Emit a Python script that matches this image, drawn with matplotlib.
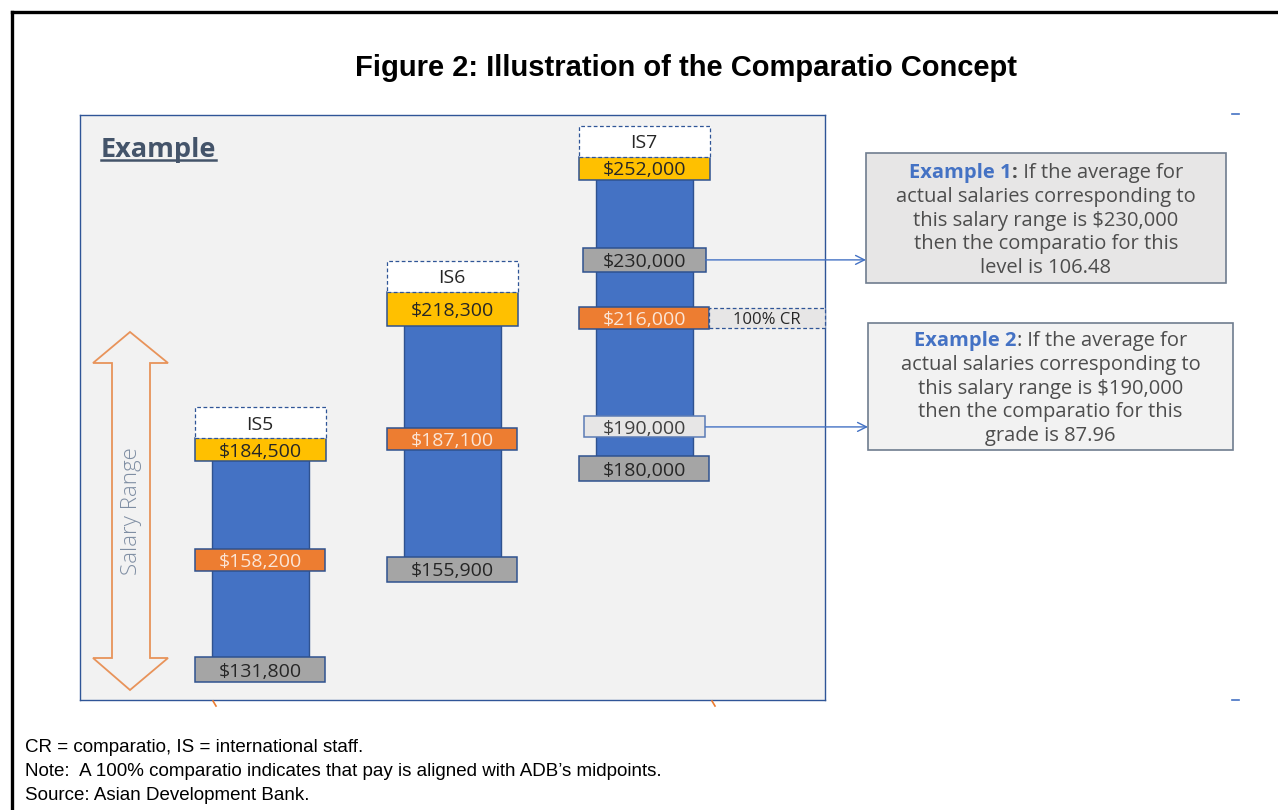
import matplotlib
matplotlib.use("Agg")
import matplotlib.pyplot as plt
from matplotlib.patches import Rectangle, Polygon
import numpy as np

# salary ranges per grade
grades = ["IS5", "IS6", "IS7"]
range_min = [131800, 155900, 180000]
range_mid = [158200, 187100, 216000]
range_max = [184500, 218300, 252000]

# example average salaries (both shown on IS7)
example_salaries = [230000, 190000]
example_words = ["level", "grade"]

title = "Figure 2: Illustration of the Comparatio Concept"
notes = ["CR = comparatio, IS = international staff.",
         "Note:  A 100% comparatio indicates that pay is aligned with ADB\u2019s midpoints.",
         "Source: Asian Development Bank."]

BLUE = "#4472c4"
EDGE = "#2f528f"
BOXFONT = "Open Sans"

W, H = 1278, 810
fig = plt.figure(figsize=(W / 100, H / 100), dpi=100)

# canvas in pixel units, on top of the chart panel
cv = fig.add_axes([0, 0, 1, 1], zorder=2)
cv.set_xlim(0, W)
cv.set_ylim(H, 0)
cv.axis("off")

# chart panel
pl, pt, pr, pb = 80, 115, 825, 700
ax = fig.add_axes([pl / W, 1 - pb / H, (pr - pl) / W, (pb - pt) / H], zorder=1)
ax.set_facecolor("#f2f2f2")
for s in ax.spines.values():
    s.set_color("#2f5597")
    s.set_linewidth(1.0)
ax.set_xticks([])
ax.set_yticks([])
ax.set_xlim(-180 / 192, 565 / 192)
ax.set_ylim(124600, 264700)

x0, x1 = ax.get_xlim()
y0, y1 = ax.get_ylim()


def pw(p):
    return p * (x1 - x0) / (pr - pl)


def ph(p):
    return p * (y1 - y0) / (pb - pt)


def value_box(x, v, wpx, hpx, face, label, tcolor, edge=EDGE, ls="-", size=14):
    w, h = pw(wpx), ph(hpx)
    ax.add_patch(Rectangle((x - w / 2, v - h / 2), w, h, facecolor=face, edgecolor=edge,
                           lw=1.1, ls=ls, zorder=3, clip_on=False))
    ax.text(x, v, label, ha="center", va="center_baseline", color=tcolor, fontsize=size,
            family=BOXFONT, zorder=4, clip_on=False)


xs = np.arange(len(grades))
lo = np.array(range_min)
hi = np.array(range_max)
ax.bar(xs, hi - lo, bottom=lo, width=pw(97), color=BLUE, edgecolor=EDGE, lw=1.0, zorder=2)

top_h = [23, 34, 23]
for i, g in enumerate(grades):
    value_box(xs[i], range_max[i], 131, top_h[i], "#ffc000", f"${range_max[i]:,}", "#262626")
    value_box(xs[i], range_mid[i], 130, 22, "#ed7d31", f"${range_mid[i]:,}", "#fbe5d6")
    value_box(xs[i], range_min[i], 130, 25, "#a5a5a5", f"${range_min[i]:,}", "#262626")
    # grade label box above the top of range
    bot = range_max[i] + ph(top_h[i]) / 2
    ax.add_patch(Rectangle((xs[i] - pw(131) / 2, bot), pw(131), ph(31), facecolor="white",
                           edgecolor="#2f5597", lw=0.9, ls=(0, (3, 2)), zorder=3, clip_on=False))
    ax.text(xs[i], bot + ph(31) / 2, g, ha="center", va="center_baseline", fontsize=14,
            family=BOXFONT, color="#262626", zorder=4, clip_on=False)

# 100% CR tag next to IS7 midpoint
k = len(grades) - 1
cr_left = xs[k] + pw(130) / 2
ax.add_patch(Rectangle((cr_left, range_mid[k] - ph(10)), pw(116), ph(20), facecolor="#e7e6e6",
                       edgecolor="#2f5597", lw=0.9, ls=(0, (3, 2)), zorder=3, clip_on=False))
ax.text(cr_left + pw(58), range_mid[k], "100% CR", ha="center", va="center_baseline",
        fontsize=12, family=BOXFONT, color="#262626", zorder=4, clip_on=False)

# example salaries on IS7
value_box(xs[k], example_salaries[0], 123, 24, "#a5a5a5", f"${example_salaries[0]:,}", "#262626")
value_box(xs[k], example_salaries[1], 121, 21, "#e7e6e6", f"${example_salaries[1]:,}", "#404040",
          edge="#5b7bb5")

# outer frame, title
cv.plot([12, 12], [12, H], color="black", lw=2.4)
cv.plot([12, W], [12, 12], color="black", lw=2.4)
cv.text(686, 68, title, ha="center", va="center", fontsize=21, fontweight="bold",
        family="Liberation Sans")

# "Example" heading
ex = cv.text(101, 157, "Example", ha="left", va="baseline", fontsize=19.5, fontweight="bold",
             family=BOXFONT, color="#44546a")

# salary range double arrow
arrow_pts = [(130, 332), (168, 363), (150, 363), (150, 658), (168, 658), (130, 690),
             (93, 658), (112, 658), (112, 363), (93, 363)]
cv.add_patch(Polygon(arrow_pts, closed=True, fill=False, edgecolor="#e8935a", lw=1.3))
cv.text(131, 511, "Salary Range", rotation=90, ha="center", va="center", fontsize=16,
        family=BOXFONT, fontweight="light", color="#7f8ea3")

# small stray marks
cv.plot([213, 216], [701, 706], color="#ed7d31", lw=1.2)
cv.plot([712, 715], [701, 706], color="#ed7d31", lw=1.2)
cv.plot([1232, 1239], [114, 114], color=BLUE, lw=1.2)
cv.plot([1232, 1239], [700, 700], color=BLUE, lw=1.2)

# footnotes
for j, line in enumerate(notes):
    cv.text(25, 747 + 24.5 * j, line, ha="left", va="center", fontsize=13.5,
            family=["Liberation Sans Narrow", "Liberation Sans"])

# explanation boxes
boxes = [(866, 360, 130, "#e7e6e6", True), (868, 365, 127, "#f2f2f2", False)]
rich = []
fs = 14.5
for i, (bx, bw, bh, face, colon_bold) in enumerate(boxes):
    sal = example_salaries[i]
    cr = sal / range_mid[k] * 100
    y_disp = ax.transData.transform((0, sal))[1]
    ypx = H - y_disp
    top = ypx - 0.82 * bh
    cv.add_patch(Rectangle((bx, top), bw, bh, facecolor=face, edgecolor="#6f7d8f", lw=1.2))
    cv.annotate("", xy=(bx, ypx), xytext=(xs[k] + pw(123) / 2, sal), textcoords=ax.transData,
                arrowprops=dict(arrowstyle="->", color=BLUE, lw=1.0, shrinkA=0, shrinkB=0,
                                mutation_scale=16))
    cx = bx + bw / 2
    cy = top + bh / 2
    lines = ["actual salaries corresponding to",
             f"this salary range is ${sal:,}",
             "then the comparatio for this",
             f"{example_words[i]} is {cr:.2f}"]
    for j, ln in enumerate(lines):
        cv.text(cx, cy + 23.7 * (j - 1), ln, ha="center", va="center_baseline", fontsize=fs,
                family=BOXFONT, color="#4d4d4d")
    pieces = [(f"Example {i + 1}", "bold", BLUE),
              (":", "bold" if colon_bold else "normal", "#4d4d4d"),
              (" If the average for", "normal", "#4d4d4d")]
    prev = None
    parts = []
    for s, wt, col in pieces:
        if prev is None:
            t = cv.text(cx, cy - 2 * 23.7, s, ha="left", va="center_baseline", fontsize=fs,
                        fontweight=wt, family=BOXFONT, color=col)
        else:
            t = cv.annotate(s, xy=(1, 0), xycoords=prev, ha="left", va="bottom", fontsize=fs,
                            fontweight=wt, family=BOXFONT, color=col)
        parts.append(t)
        prev = t
    rich.append((cx, parts))

fig.canvas.draw()
r = fig.canvas.get_renderer()
for cx, parts in rich:
    total = sum(p.get_window_extent(r).width for p in parts)
    px0, py0 = parts[0].get_position()
    parts[0].set_position((cx - total / 2, py0))

# underline for heading
bb = ex.get_window_extent(r)
cv.plot([bb.x0, bb.x1], [160, 160], color="#44546a", lw=1.8)

fig.savefig("out.png", dpi=100)
